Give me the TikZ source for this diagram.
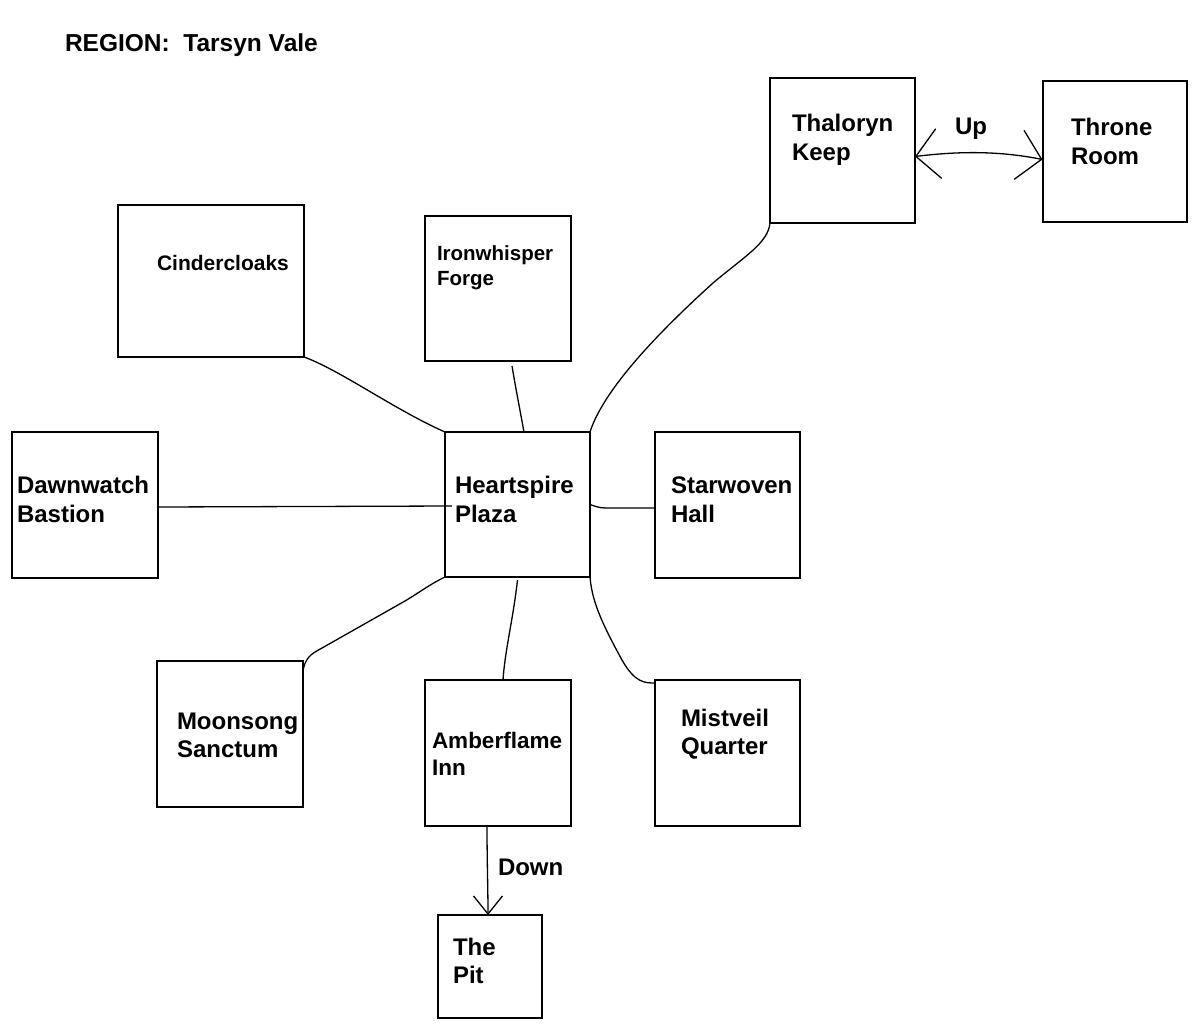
\documentclass[tikz,border=0pt]{standalone}
\usepackage{fontspec}
\setmainfont{Liberation Sans}
\usetikzlibrary{arrows.meta}
\newcommand\tlines[2]{\vtop{\hbox{#1}\hbox{#2}}}
\begin{document}
\begin{tikzpicture}[x=1pt,y=-1pt,
  box/.style={draw=black,line width=2pt,inner sep=0pt,outer sep=0pt,fill=none},
  lbl/.style={anchor=base west,inner sep=0pt,outer sep=0pt,font=\fontsize{24}{29}\selectfont\bfseries},
  smalllbl/.style={lbl,font=\fontsize{20.5}{25}\selectfont\bfseries},
  midlbl/.style={lbl,font=\fontsize{22.5}{27}\selectfont\bfseries},
  link/.style={draw=black,line width=1.3pt}
]
\useasboundingbox[fill=white] (0,0) rectangle (1200,1025);

% title
\node[lbl,font=\fontsize{24.5}{29}\selectfont\bfseries] (title) at (65,52) {REGION:\ \ Tarsyn Vale};

% boxes
\node[box,minimum width=145pt,minimum height=145pt] (tk) at (842.5,150.5) {};
\node[box,minimum width=144pt,minimum height=141pt] (tr) at (1114.5,151.5) {};
\node[box,minimum width=186pt,minimum height=152pt] (cc) at (211,281) {};
\node[box,minimum width=146pt,minimum height=145pt] (iw) at (498,288.5) {};
\node[box,minimum width=146pt,minimum height=146pt] (db) at (85,505) {};
\node[box,minimum width=145pt,minimum height=145pt] (hp) at (517.5,504.5) {};
\node[box,minimum width=145pt,minimum height=146pt] (sw) at (727.5,505) {};
\node[box,minimum width=146pt,minimum height=146pt] (ms) at (230,734) {};
\node[box,minimum width=146pt,minimum height=146pt] (ai) at (498,753) {};
\node[box,minimum width=145pt,minimum height=146pt] (mq) at (727.5,753) {};
\node[box,minimum width=104pt,minimum height=103pt] (pit) at (490,966.5) {};

% labels
\node[lbl] (tkl) at (792,131) {\tlines{Thaloryn}{Keep}};
\node[lbl] (trl) at (1071,135) {\tlines{Throne}{Room}};
\node[lbl] (upl) at (955,134) {Up};
\node[smalllbl,font=\fontsize{21}{25}\selectfont\bfseries] (ccl) at (157,270) {Cindercloaks};
\node[smalllbl] (iwl) at (437,260) {\tlines{Ironwhisper}{Forge}};
\node[lbl] (dbl) at (17,493) {\tlines{Dawnwatch}{Bastion}};
\node[lbl] (hpl) at (455,493) {\tlines{Heartspire}{Plaza}};
\node[lbl] (swl) at (671,493) {\tlines{Starwoven}{Hall}};
\node[lbl,font=\fontsize{24}{28}\selectfont\bfseries] (msl) at (177,729) {\tlines{Moonsong}{Sanctum}};
\node[midlbl] (ail) at (432,748) {\tlines{Amberflame}{Inn}};
\node[lbl,font=\fontsize{24}{28}\selectfont\bfseries] (mql) at (681,726) {\tlines{Mistveil}{Quarter}};
\node[lbl] (dnl) at (498,875) {Down};
\node[lbl,font=\fontsize{24}{28}\selectfont\bfseries] (pitl) at (453,955) {\tlines{The}{Pit}};

% connectors
\draw[link] (cc.south east) .. controls (340,370) and (395,410) .. (hp.north west);
\draw[link] ([xshift=14pt,yshift=-5pt]iw.south) .. controls (516,390) and (520,410) .. ([xshift=6.5pt]hp.north);
\draw[link] (tk.south west) .. controls (768,243) and (745,256) .. (713,283)
  .. controls (670,322) and (605,385) .. (hp.north east);
\draw[link] ([yshift=-2pt]db.east) -- ([xshift=7pt,yshift=-1.5pt]hp.west);
\draw[link] (hp.east) .. controls (600,508) .. (612,508) -- ([yshift=-3pt]sw.west);
\draw[link] (hp.south east) .. controls (592,600) and (600,620) .. (622,660)
  .. controls (635,683) and (645,683) .. ([yshift=-3pt]mq.north west);
\draw[link] ([yshift=-3pt]hp.south) .. controls (513,620) and (505,650) .. ([xshift=5pt]ai.north);
\draw[link] (hp.south west) .. controls (432,583) and (420,592) .. (405,601) -- (315,652)
  .. controls (305,658) and (302,668) .. ([yshift=-19pt]ms.north east);

% arrows
\draw[line width=1.3pt,{Straight Barb[length=23pt,width=50pt]}-{Straight Barb[length=23pt,width=50pt]}]
  ([yshift=-6pt]tk.east) .. controls (960,151) and (1000,151) .. ([yshift=-8pt]tr.west);
\draw[line width=1.3pt,-{Straight Barb[length=18pt,width=29pt]}]
  ([xshift=-11pt]ai.south) .. controls (487,860) and (488,890) .. ([xshift=-2pt]pit.north);
\end{tikzpicture}
\end{document}
